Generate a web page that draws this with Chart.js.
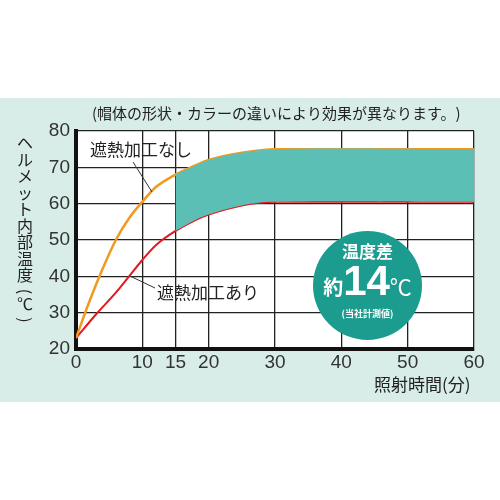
<!DOCTYPE html>
<html><head><meta charset="utf-8">
<script src="https://cdn.jsdelivr.net/npm/chart.js@4"></script>
<style>html,body{margin:0;padding:0;background:#fff}#w{width:500px;height:500px;position:relative}
#c{position:absolute;left:313px;top:231px;width:109px;height:109px;border-radius:50%;background:#1b9c8f;color:#fff;font-family:"Noto Sans CJK JP";text-align:center}
</style></head><body>
<div id="w"><canvas id="cv" width="500" height="500"></canvas>
<div id="c"><div style="font-size:17px;font-weight:bold;margin-top:10px;line-height:20px">温度差</div>
<div style="line-height:40px;white-space:nowrap"><span style="font-size:20px;font-weight:bold">約</span><span style="font-family:'Liberation Sans';font-size:42px;font-weight:bold">14</span><span style="font-size:22px">℃</span></div>
<div style="font-size:9px;font-weight:bold;line-height:12px">(当社計測値)</div></div></div>
<script>
const timesNo=[0,2,4,6,8,10,12,15,18,20,25,30,60];
const tempNo=[23,33,42,50,56,60.5,64.5,68,70.5,72,74,75,75];
const timesYes=[0,3,6,8,10,12,15,18,20,25,30,60];
const tempYes=[23,29.5,35.5,40,44.5,48.5,52.5,55.5,57,59.5,60.5,60.5];
const xTicks=[0,10,15,20,30,40,50,60];
const yTicks=[20,30,40,50,60,70,80];
const pts=(t,v,from)=>t.map((x,i)=>({x,y:v[i]})).filter(p=>p.x>=(from||0));
const bg={id:'bg',beforeDraw(c){const g=c.ctx,a=c.chartArea;g.save();g.fillStyle='#d9ede8';g.fillRect(0,98,500,304);g.fillStyle='#fff';g.fillRect(a.left,a.top,a.right-a.left,a.bottom-a.top);g.restore();},
afterDraw(c){const g=c.ctx;g.save();g.fillStyle='#222';g.font='15px "Noto Sans CJK JP"';g.textBaseline='middle';
g.fillText('(帽体の形状・カラーの違いにより効果が異なります。)',92,113);
g.font='17px "Noto Sans CJK JP"';g.fillText('遮熱加工なし',90,150);g.fillText('遮熱加工あり',157,293);
g.fillText('照射時間(分)',374,385);
g.strokeStyle='#333';g.lineWidth=1;g.beginPath();g.moveTo(133,162);g.lineTo(152,192);g.moveTo(130,276);g.lineTo(155,288);g.stroke();
g.translate(25,0);g.font='16px "Noto Sans CJK JP"';const s='ヘルメット内部温度(℃)';let y=143;g.textAlign='center';
for(const ch of s){if('()'.includes(ch)){g.save();g.translate(0,y);g.rotate(Math.PI/2);g.fillText(ch,0,0);g.restore();y+=12;}else{g.fillText(ch,0,y);y+=16.5;}}
g.restore();}};
new Chart(document.getElementById('cv'),{type:'line',plugins:[bg],
data:{datasets:[
{data:pts(timesYes,tempYes,15),borderWidth:0,pointRadius:0,fill:false,tension:0.4},
{data:pts(timesNo,tempNo,15),borderWidth:0,pointRadius:0,fill:'-1',backgroundColor:'#5bbfb6',tension:0.4},
{data:pts(timesNo,tempNo),borderColor:'#f29a1f',borderWidth:2.5,pointRadius:0,tension:0.4,cubicInterpolationMode:'monotone'},
{data:pts(timesYes,tempYes),borderColor:'#e3191f',borderWidth:2,pointRadius:0,tension:0.4,cubicInterpolationMode:'monotone'}]},
options:{responsive:false,animation:false,layout:{padding:{left:0,top:131,right:26,bottom:0}},
plugins:{legend:{display:false},tooltip:{enabled:false}},
scales:{x:{type:'linear',min:0,max:60,afterBuildTicks:s=>{s.ticks=xTicks.map(v=>({value:v}))},afterFit:s=>{s.height=151},
ticks:{color:'#333',font:{size:19,family:'Liberation Sans'},padding:2,maxRotation:0,autoSkip:false},grid:{color:'#222',lineWidth:1.3,drawTicks:false},border:{color:'#111',width:4}},
y:{min:20,max:80,afterBuildTicks:s=>{s.ticks=yTicks.map(v=>({value:v}))},afterFit:s=>{s.width=76},
ticks:{color:'#333',font:{size:19,family:'Liberation Sans'},padding:6},grid:{color:'#222',lineWidth:1.3,drawTicks:false},border:{color:'#111',width:4}}}}});
</script></body></html>
